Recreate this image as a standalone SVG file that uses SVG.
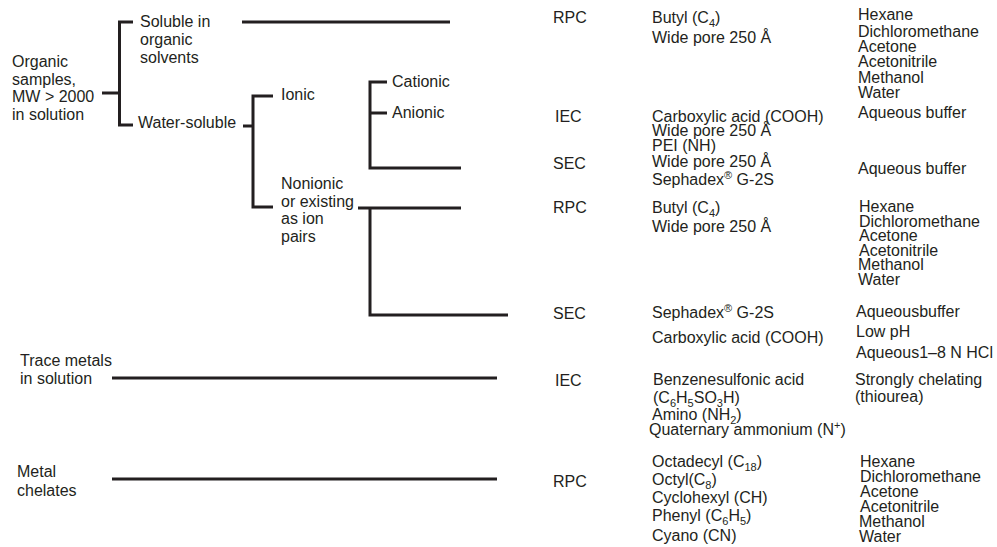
<svg xmlns="http://www.w3.org/2000/svg" width="997" height="547" viewBox="0 0 997 547">
<style>
text{font-family:"Liberation Sans",Arial,sans-serif;font-size:16px;fill:#231f20}
.ln{fill:none;stroke:#231f20;stroke-width:3;stroke-linecap:butt;stroke-linejoin:miter}
.s{font-size:11px}
</style>
<rect width="997" height="547" fill="#fff"/>
<g id="connectors">
<path class="ln" d="M242,22 H450"/>
<path class="ln" d="M133,22 H119.5 V125 H133"/>
<path class="ln" d="M102,93 H119.5"/>
<path class="ln" d="M243,126 H253"/>
<path class="ln" d="M273,96 H253 V207 H273"/>
<path class="ln" d="M387,82 H370 V168 H461"/>
<path class="ln" d="M370,113 H387"/>
<path class="ln" d="M358,208 H461"/>
<path class="ln" d="M370,208 V315 H508"/>
<path class="ln" d="M112,378 H497"/>
<path class="ln" d="M112,479 H497"/>
</g>
<g id="organic"><text x="12" y="67">Organic</text><text x="12" y="85">samples,</text><text x="12" y="102">MW &gt; 2000</text><text x="12" y="120">in solution</text></g>
<g id="soluble"><text x="140" y="27">Soluble in</text><text x="140" y="45">organic</text><text x="140" y="63">solvents</text></g>
<g id="water"><text x="138" y="128">Water-soluble</text></g>
<g id="ionic"><text x="281" y="100">Ionic</text></g>
<g id="cationic"><text x="392" y="87">Cationic</text></g>
<g id="anionic"><text x="392" y="118">Anionic</text></g>
<g id="nonionic"><text x="281" y="189">Nonionic</text><text x="281" y="207">or existing</text><text x="281" y="224">as ion</text><text x="281" y="242">pairs</text></g>
<g id="trace"><text x="20" y="366">Trace metals</text><text x="20" y="384">in solution</text></g>
<g id="chelates"><text x="17" y="477">Metal</text><text x="17" y="496">chelates</text></g>

<g id="row1">
<text x="553" y="23">RPC</text>
<text x="652" y="23">Butyl (C<tspan class="s" dy="4">4</tspan><tspan dy="-4">)</tspan></text>
<text x="652" y="43">Wide pore 250 Å</text>
<text x="858" y="20">Hexane</text><text x="858" y="37">Dichloromethane</text><text x="858" y="52">Acetone</text><text x="858" y="67">Acetonitrile</text><text x="858" y="83">Methanol</text><text x="858" y="98">Water</text>
</g>
<g id="row2">
<text x="555" y="122">IEC</text>
<text x="652" y="122">Carboxylic acid (COOH)</text>
<text x="652" y="136">Wide pore 250 Å</text>
<text x="652" y="151">PEI (NH)</text>
<text x="858" y="118">Aqueous buffer</text>
</g>
<g id="row3">
<text x="553" y="169">SEC</text>
<text x="652" y="167">Wide pore 250 Å</text>
<text x="652" y="185">Sephadex<tspan class="s" dy="-6">®</tspan><tspan dy="6"> G-2S</tspan></text>
<text x="858" y="174">Aqueous buffer</text>
</g>
<g id="row4">
<text x="553" y="213">RPC</text>
<text x="652" y="213">Butyl (C<tspan class="s" dy="4">4</tspan><tspan dy="-4">)</tspan></text>
<text x="652" y="232">Wide pore 250 Å</text>
<text x="859" y="212">Hexane</text><text x="859" y="227">Dichloromethane</text><text x="859" y="241">Acetone</text><text x="859" y="256">Acetonitrile</text><text x="858" y="270">Methanol</text><text x="858" y="285">Water</text>
</g>
<g id="row5">
<text x="553" y="319">SEC</text>
<text x="652" y="318">Sephadex<tspan class="s" dy="-6">®</tspan><tspan dy="6"> G-2S</tspan></text>
<text x="652" y="343">Carboxylic acid (COOH)</text>
<text x="856" y="317">Aqueousbuffer</text>
<text x="856" y="337">Low pH</text>
<text x="856" y="358">Aqueous1–8 N HCl</text>
</g>
<g id="row6">
<text x="555" y="386">IEC</text>
<text x="653" y="385">Benzenesulfonic acid</text>
<text x="653" y="403">(C<tspan class="s" dy="4">6</tspan><tspan dy="-4">H</tspan><tspan class="s" dy="4">5</tspan><tspan dy="-4">SO</tspan><tspan class="s" dy="4">3</tspan><tspan dy="-4">H)</tspan></text>
<text x="652" y="420">Amino (NH<tspan class="s" dy="4">2</tspan><tspan dy="-4">)</tspan></text>
<text x="649" y="435">Quaternary ammonium (N<tspan class="s" dy="-6">+</tspan><tspan dy="6">)</tspan></text>
<text x="855" y="385">Strongly chelating</text>
<text x="855" y="402">(thiourea)</text>
</g>
<g id="row7">
<text x="553" y="487">RPC</text>
<text x="652" y="467">Octadecyl (C<tspan class="s" dy="4">18</tspan><tspan dy="-4">)</tspan></text>
<text x="652" y="485">Octyl(C<tspan class="s" dy="4">8</tspan><tspan dy="-4">)</tspan></text>
<text x="652" y="503">Cyclohexyl (CH)</text>
<text x="652" y="521">Phenyl (C<tspan class="s" dy="4">6</tspan><tspan dy="-4">H</tspan><tspan class="s" dy="4">5</tspan><tspan dy="-4">)</tspan></text>
<text x="652" y="541">Cyano (CN)</text>
<text x="860" y="467">Hexane</text><text x="860" y="482">Dichloromethane</text><text x="860" y="497">Acetone</text><text x="860" y="512">Acetonitrile</text><text x="859" y="527">Methanol</text><text x="859" y="542">Water</text>
</g>
</svg>
